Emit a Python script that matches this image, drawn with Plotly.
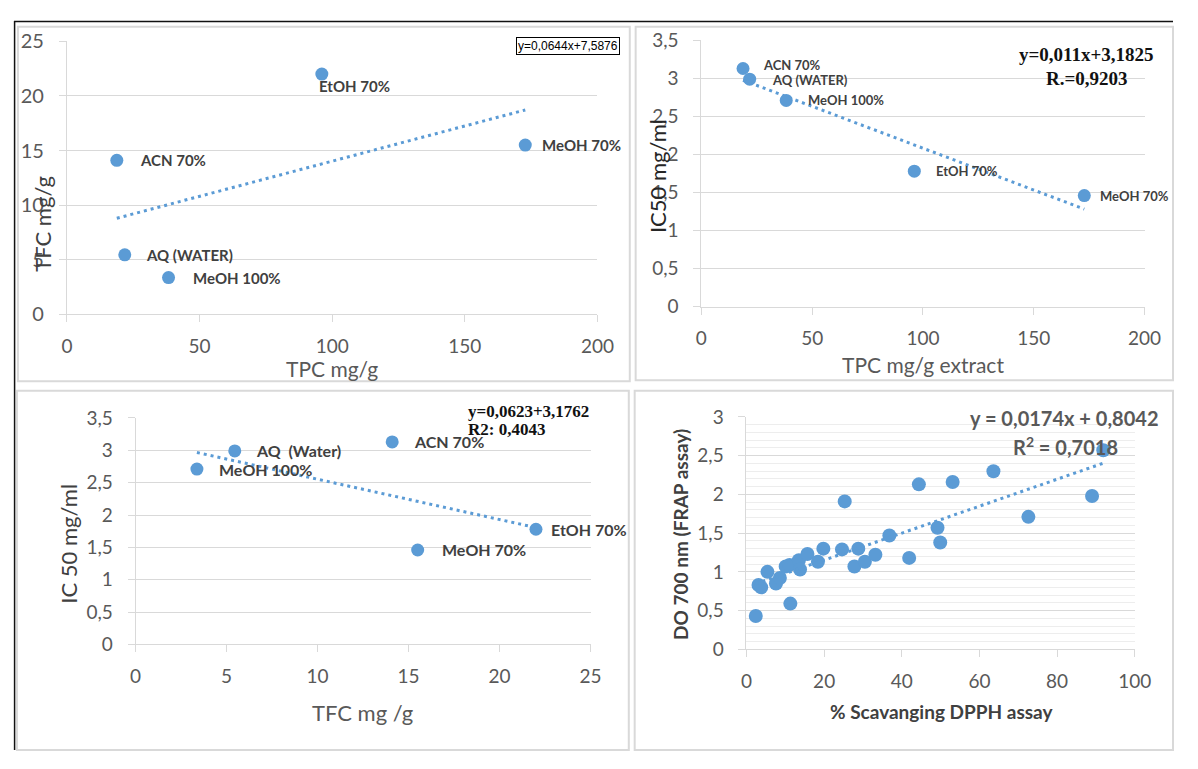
import plotly.graph_objects as go

# page is 1198x769; the browser body margin of 8px is compensated
PAGE_W, PAGE_H = 1198, 769
OFF = 8
W, H = PAGE_W - 2 * OFF, PAGE_H - 2 * OFF

# ---------------- data ----------------
solvent_labels = ["ACN 70%", "AQ (WATER)", "MeOH 100%", "EtOH 70%", "MeOH 70%"]
solvent_labels_p3 = ["ACN 70%", "AQ  (Water)", "MeOH 100%", "EtOH 70%", "MeOH 70%"]
tpc = [18.8, 21.8, 38.3, 96.1, 172.8]
tfc = [14.1, 5.45, 3.37, 22.0, 15.5]
ic50 = [3.13, 2.99, 2.71, 1.78, 1.46]

dpph = [2.4, 3.1, 3.8, 5.4, 7.6, 8.6, 10.1, 11.1, 11.3, 13.5, 13.8, 15.7, 18.4, 19.8, 24.6,
        25.3, 27.8, 28.8, 30.5, 33.2, 36.8, 41.9, 44.4, 49.2, 49.9, 53.1, 63.6, 72.6, 89.0, 91.9]
frap = [0.43, 0.83, 0.80, 1.00, 0.85, 0.92, 1.07, 1.09, 0.59, 1.15, 1.03, 1.23, 1.13, 1.30, 1.29,
        1.91, 1.07, 1.30, 1.13, 1.22, 1.47, 1.18, 2.13, 1.57, 1.38, 2.16, 2.30, 1.71, 1.98, 2.57]

# trendline coefficients (slope, intercept)
fit_tpc_tfc = [0.0644, 7.5876]
fit_tpc_ic50 = [-0.011, 3.1825]
fit_tfc_ic50 = [-0.0623, 3.1762]
fit_dpph_frap = [0.0174, 0.8042]

# ---------------- style ----------------
BLUE = "#5B9BD5"
GRID = "#D9D9D9"
TICKC = "#595959"
LABC = "#404040"
SANS = "Lato, 'Open Sans', sans-serif"
SERIF = "'Liberation Serif', 'DejaVu Serif', serif"
NARROW = "'Liberation Sans Narrow', 'Liberation Sans', sans-serif"


def fx(x):
    return max(0.0, min(1.0, (x - OFF) / W))


def fy(y):
    return max(0.0, min(1.0, 1 - (y - OFF) / H))


fig = go.Figure()


def add_panel(n, xs, ys, fit, msize):
    xa = "x" if n == 1 else f"x{n}"
    ya = "y" if n == 1 else f"y{n}"
    fig.add_trace(go.Scatter(x=xs, y=ys, mode="markers", xaxis=xa, yaxis=ya,
                             marker=dict(color=BLUE, size=msize), showlegend=False,
                             hoverinfo="x+y"))
    x0, x1 = min(xs), max(xs)
    fig.add_trace(go.Scatter(x=[x0, x1], y=[fit[0] * x0 + fit[1], fit[0] * x1 + fit[1]],
                             mode="lines", xaxis=xa, yaxis=ya, showlegend=False,
                             line=dict(color=BLUE, width=3, dash="3px,4px"), hoverinfo="skip"))


add_panel(1, tpc, tfc, fit_tpc_tfc, 13)
add_panel(2, tpc, ic50, fit_tpc_ic50, 13)
add_panel(3, tfc, ic50, fit_tfc_ic50, 13)
add_panel(4, dpph, frap, fit_dpph_frap, 14)


def xaxis_style(l, r, rng, dtick, anchor, size=19):
    return dict(domain=[fx(l), fx(r)], range=rng, dtick=dtick, anchor=anchor,
                showgrid=False, zeroline=False, showline=True, linecolor=GRID, linewidth=1,
                ticks="outside", ticklen=7, tickcolor=GRID, ticklabelstandoff=8,
                tickfont=dict(family=SANS, size=size, color=TICKC), fixedrange=True)


def yaxis_style(b, t, rng, dtick, anchor, size=19):
    return dict(domain=[fy(b), fy(t)], range=rng, dtick=dtick, anchor=anchor,
                showgrid=True, gridcolor=GRID, gridwidth=1, zeroline=False,
                showline=True, linecolor=GRID, linewidth=1,
                ticks="outside", ticklen=7, tickcolor=GRID, ticklabelstandoff=11,
                tickfont=dict(family=SANS, size=size, color=TICKC), fixedrange=True)


fig.update_layout(
    width=W, height=H, margin=dict(l=0, r=0, t=0, b=0),
    paper_bgcolor="white", plot_bgcolor="white", separators=", ",
    xaxis=xaxis_style(62, 603, [0, 200], 50, "y", 19),
    yaxis=yaxis_style(311, 29, [0, 25], 5, "x", 20),
    xaxis2=xaxis_style(709, 1161, [0, 200], 50, "y2"),
    yaxis2=yaxis_style(303, 28, [0, 3.5], 0.5, "x2"),
    xaxis3=xaxis_style(132, 596, [0, 25], 5, "y3"),
    yaxis3=yaxis_style(652, 418, [0, 3.5], 0.5, "x3"),
    xaxis4=xaxis_style(755, 1151, [0, 100], 20, "y4"),
    yaxis4=yaxis_style(657, 417, [0, 3], 0.5, "x4"),
)
fig.update_layout(yaxis4=dict(minor=dict(dtick=0.1, showgrid=True, gridcolor="#EDEDED", ticks="")))

# ---------------- frames ----------------
shapes = []
for (l, t, r, b) in [(12, 14, 636, 380), (642, 14, 1193, 379), (11, 390, 635, 766), (641, 390, 1195, 765)]:
    shapes.append(dict(type="rect", xref="paper", yref="paper", x0=fx(l), x1=fx(r), y0=fy(b), y1=fy(t),
                       line=dict(color="#D9D9D9", width=2), fillcolor="rgba(0,0,0,0)", layer="below"))
shapes.append(dict(type="line", xref="paper", yref="paper", x0=fx(8), x1=1, y0=fy(8.6), y1=fy(8.6),
                   line=dict(color="#111111", width=1.5)))
shapes.append(dict(type="line", xref="paper", yref="paper", x0=fx(8.6), x1=fx(8.6), y0=0, y1=fy(8),
                   line=dict(color="#111111", width=1.5)))
fig.update_layout(shapes=shapes)

ann = []


def text_px(x, y, text, size, color, family=SANS, angle=0, xanchor="center", bold=False, **kw):
    if bold:
        text = "<b>" + text + "</b>"
    d = dict(xref="paper", yref="paper", x=fx(x), y=fy(y), text=text, showarrow=False,
             font=dict(family=family, size=size, color=color), textangle=angle,
             xanchor=xanchor, yanchor="middle")
    d.update(kw)
    ann.append(d)


def data_labels(n, xs, ys, labels, offsets, size):
    xr = "x" if n == 1 else f"x{n}"
    yr = "y" if n == 1 else f"y{n}"
    for xv, yv, lab, (dx, dy) in zip(xs, ys, labels, offsets):
        ann.append(dict(xref=xr, yref=yr, x=xv, y=yv, text="<b>" + lab + "</b>", showarrow=False,
                        xanchor="left", yanchor="middle", xshift=dx, yshift=dy,
                        font=dict(family=SANS, size=size, color=LABC)))


# panel 1
data_labels(1, tpc, tfc, solvent_labels, [(21, 0), (19, 0), (22, 0), (-5, -12), (15, 0)], 15)
text_px(332, 367, "TPC mg/g", 21, TICKC)
text_px(37, 217, "TFC mg/g", 22, LABC, angle=-90)
text_px(573, 33.5, "y=0,0644x+7,5876", 12, "#000000", family=NARROW,
        bordercolor="#000000", borderwidth=1, borderpad=1, bgcolor="white")

# panel 2
data_labels(2, tpc, ic50, solvent_labels, [(18, 4), (20, -1), (20, 0), (20, 0), (14, 0)], 13)
text_px(935, 363, "TPC mg/g extract", 21, TICKC)
text_px(665, 168, "IC50 mg/ml", 22, "#262626", angle=-90)
text_px(1102, 43, "y=0,011x+3,1825", 19, "#111111", family=SERIF, bold=True)
text_px(1102, 67, "R.=0,9203", 19, "#111111", family=SERIF, bold=True)

# panel 3
data_labels(3, tfc, ic50, solvent_labels_p3, [(20, 0), (19, 0), (20, 0), (13, 0), (22, 0)], 16)
text_px(363, 722, "TFC mg /g", 22, TICKC)
text_px(64, 548, "IC 50 mg/ml", 22, LABC, angle=-90)
text_px(469, 411, "y=0,0623+3,1762", 17, "#111111", family=SERIF, bold=True, xanchor="left")
text_px(469, 430, "R2: 0,4043", 17, "#111111", family=SERIF, bold=True, xanchor="left")

# panel 4
text_px(954, 721, "% Scavanging DPPH assay", 19, LABC, bold=True)
text_px(687, 538, "DO 700 nm (FRAP assay)", 19, LABC, angle=-90, bold=True)
text_px(1079, 418, "y = 0,0174x + 0,8042", 20, TICKC, bold=True)
text_px(1080, 447, "R<sup>2</sup> = 0,7018", 20, TICKC, bold=True)

fig.update_layout(annotations=ann)

fig.write_html("out.html")
